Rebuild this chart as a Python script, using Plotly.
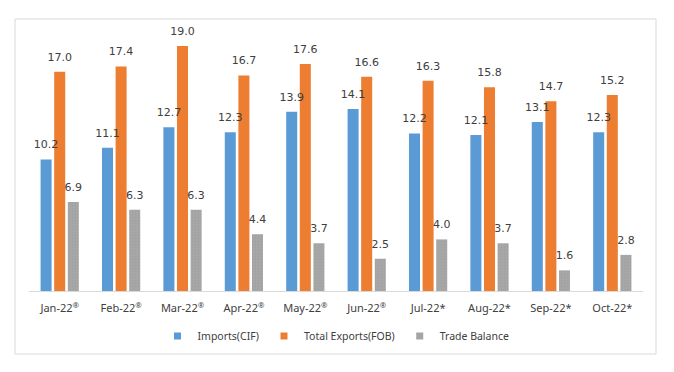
import plotly.graph_objects as go

months = ["Jan-22<sup>®</sup>", "Feb-22<sup>®</sup>", "Mar-22<sup>®</sup>", "Apr-22<sup>®</sup>",
          "May-22<sup>®</sup>", "Jun-22<sup>®</sup>", "Jul-22*", "Aug-22*", "Sep-22*", "Oct-22*"]
imports_cif = [10.2, 11.1, 12.7, 12.3, 13.9, 14.1, 12.2, 12.1, 13.1, 12.3]
exports_fob = [17.0, 17.4, 19.0, 16.7, 17.6, 16.6, 16.3, 15.8, 14.7, 15.2]
trade_balance = [6.9, 6.3, 6.3, 4.4, 3.7, 2.5, 4.0, 3.7, 1.6, 2.8]

series = [
    ("Imports(CIF)", imports_cif, "#5B9BD5", None),
    ("Total Exports(FOB)", exports_fob, "#ED7D31", None),
    ("Trade Balance", trade_balance, "#A5A5A5",
     dict(shape=".", fgcolor="#989898", bgcolor="#A8A8A8", size=3, solidity=0.35)),
]

LABEL_PAD = 0.4  # extra gap (in value units) between bar top and its label

fig = go.Figure()
for i, (name, vals, color, pattern) in enumerate(series):
    marker = dict(color=color, line=dict(width=0))
    if pattern:
        marker["pattern"] = pattern
    fig.add_trace(go.Bar(
        x=months, y=vals, name=name, showlegend=False,
        offsetgroup=str(i), marker=marker, hoverinfo="skip",
    ))
# label layers drawn on top of all bars
for i, (name, vals, color, pattern) in enumerate(series):
    fig.add_trace(go.Bar(
        x=months, y=[LABEL_PAD] * len(vals), base=vals, showlegend=False,
        offsetgroup=str(i),
        marker=dict(color="rgba(0,0,0,0)", line=dict(width=0)),
        text=[f"{v:.1f}" for v in vals],
        textposition="outside", constraintext="none", textangle=0,
        textfont=dict(family="DejaVu Sans", size=11, color="#404040"),
        cliponaxis=False, hoverinfo="skip",
    ))
for name, vals, color, pattern in series:
    fig.add_trace(go.Scatter(
        x=[None], y=[None], mode="markers", name=name,
        marker=dict(symbol="square", size=7, color=color),
    ))

# body margin of the page is 8px; work in screen coordinates
OFF = 8
W, H = 674 - OFF, 372 - OFF
L, R, T, B = 29 - OFF, 31, 33 - OFF, 81
pw, ph = W - L - R, H - T - B

def px(x):
    return (x - OFF - L) / pw

def py(y):
    return (H - B - (y - OFF)) / ph

fig.update_layout(
    width=W, height=H,
    margin=dict(l=L, r=R, t=T, b=B),
    paper_bgcolor="white", plot_bgcolor="white",
    barmode="group", bargap=0.335, bargroupgap=0.19,
    font=dict(family="Noto Sans", size=11, color="#404040"),
    showlegend=True,
    legend=dict(orientation="h", x=0.5, xanchor="center", y=py(336), yanchor="middle",
                font=dict(family="Noto Sans", size=10.5, color="#404040"),
                itemwidth=30, traceorder="normal"),
    xaxis=dict(showline=True, linecolor="#D9D9D9", linewidth=1, ticks="",
               ticklabelstandoff=7,
               showgrid=False, tickfont=dict(family="Noto Sans", size=11, color="#404040")),
    yaxis=dict(range=[0, 20], visible=False, showgrid=False),
    shapes=[dict(type="rect", xref="paper", yref="paper",
                 x0=px(15), x1=px(656), y0=py(354), y1=py(19),
                 line=dict(color="#D9D9D9", width=1), fillcolor="rgba(0,0,0,0)")],
)

fig.write_html("out.html")
